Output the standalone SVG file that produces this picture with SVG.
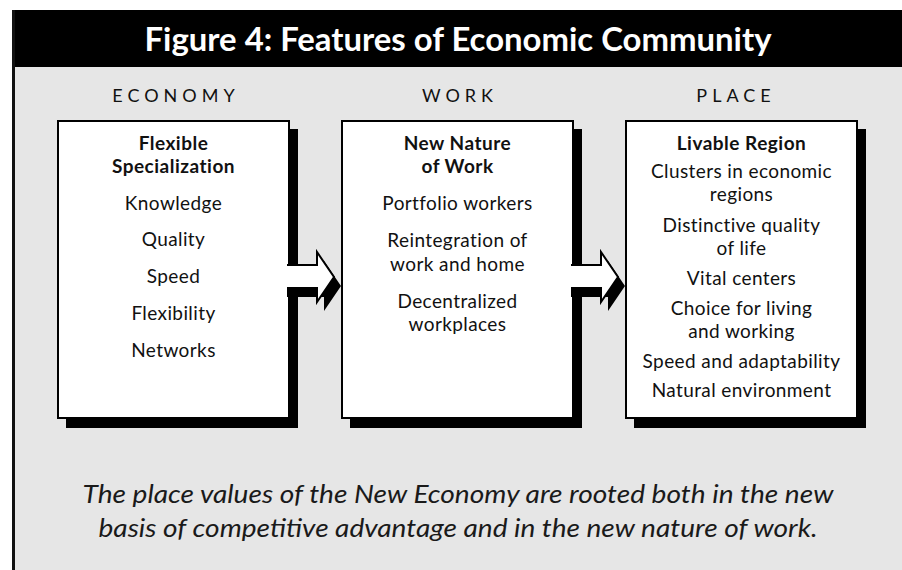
<svg xmlns="http://www.w3.org/2000/svg" width="902" height="570" viewBox="0 0 902 570">
<style>
.t{font-family:Lato,"Open Sans","Liberation Sans",sans-serif;fill:#111;text-anchor:middle}
.title{font-size:32px;font-weight:700;fill:#fff}
.lab{font-size:18px;letter-spacing:5px}
.hd{font-size:19px;font-weight:700;letter-spacing:0.5px}
.it{font-size:19px;font-weight:400;letter-spacing:0.4px}
.cap{font-size:25px;font-style:italic;font-weight:400;fill:#1a1a1a}
.box{fill:#fff;stroke:#000;stroke-width:2}
.sh{fill:#000}
.arr{fill:#fff;stroke:#000;stroke-width:2}
</style>
<rect x="0" y="0" width="902" height="570" fill="#fff"/>
<rect x="15" y="67" width="887" height="503" fill="#e6e6e6"/>
<rect x="12" y="10" width="890" height="57" fill="#000"/>
<rect x="12" y="10" width="3" height="560" fill="#111"/>
<text class="t title" x="458" y="51" textLength="627" lengthAdjust="spacingAndGlyphs">Figure 4: Features of Economic Community</text>
<text class="t lab" x="176" y="102">ECONOMY</text>
<text class="t lab" x="460" y="102">WORK</text>
<text class="t lab" x="736" y="102">PLACE</text>

<g id="economy">
<rect class="sh" x="66" y="129" width="232" height="299"/>
<rect class="box" x="58" y="121" width="231" height="297"/>
<text class="t hd" x="173.5" y="150">Flexible<tspan x="173.5" dy="23">Specialization</tspan></text>
<text class="t it" x="173.5" y="210">Knowledge</text>
<text class="t it" x="173.5" y="246">Quality</text>
<text class="t it" x="173.5" y="283">Speed</text>
<text class="t it" x="173.5" y="320">Flexibility</text>
<text class="t it" x="173.5" y="357">Networks</text>
</g>

<g id="work">
<rect class="sh" x="350" y="129" width="232" height="299"/>
<rect class="box" x="342" y="121" width="231" height="297"/>
<text class="t hd" x="457.5" y="150">New Nature<tspan x="457.5" dy="23">of Work</tspan></text>
<text class="t it" x="457.5" y="210">Portfolio workers</text>
<text class="t it" x="457.5" y="247">Reintegration of<tspan x="457.5" dy="24">work and home</tspan></text>
<text class="t it" x="457.5" y="308">Decentralized<tspan x="457.5" dy="23">workplaces</tspan></text>
</g>

<g id="place">
<rect class="sh" x="634" y="129" width="232" height="299"/>
<rect class="box" x="626" y="121" width="231" height="297"/>
<text class="t hd" x="741.5" y="150">Livable Region</text>
<text class="t it" x="741.5" y="178">Clusters in economic<tspan x="741.5" dy="23">regions</tspan></text>
<text class="t it" x="741.5" y="232">Distinctive quality<tspan x="741.5" dy="23">of life</tspan></text>
<text class="t it" x="741.5" y="285">Vital centers</text>
<text class="t it" x="741.5" y="315">Choice for living<tspan x="741.5" dy="23">and working</tspan></text>
<text class="t it" x="741.5" y="368">Speed and adaptability</text>
<text class="t it" x="741.5" y="397">Natural environment</text>
</g>

<g id="connectors">
<path class="sh" d="M287,274 H324 V261 L341,286 L324,311 V297 H287 Z"/>
<path class="arr" d="M287,265 H317 V252 L334,277 L317,302 V288 H287"/>
<path class="sh" d="M571,274 H608 V261 L625,286 L608,311 V297 H571 Z"/>
<path class="arr" d="M571,265 H601 V252 L618,277 L601,302 V288 H571"/>
</g>

<text class="t cap" x="458" y="503" textLength="751" lengthAdjust="spacingAndGlyphs">The place values of the New Economy are rooted both in the new</text>
<text class="t cap" x="458" y="537" textLength="719" lengthAdjust="spacingAndGlyphs">basis of competitive advantage and in the new nature of work.</text>
</svg>
